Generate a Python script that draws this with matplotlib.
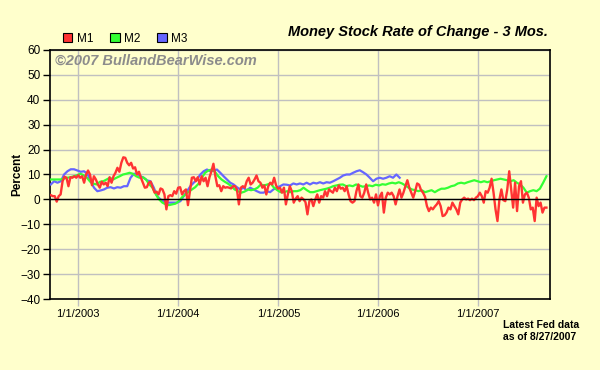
"""Money Stock Rate of Change - 3 Mos. (M1, M2, M3), weekly Fed data."""
import matplotlib

matplotlib.use("Agg")
import matplotlib.dates as mdates
import matplotlib.patches as mpatches
import matplotlib.pyplot as plt
import pandas as pd
from matplotlib.ticker import FuncFormatter

plt.rcParams["font.family"] = ["Liberation Sans", "DejaVu Sans"]

# 3-month annualised rate of change, percent
M1 = [
    1.7, 1.3, 1.3, -0.9, 1.3, 2.0, 7.3, 9.1, 8.7, 5.3, 8.9, 8.7, 9.3, 8.7, 9.7, 8.7, 9.3,
    6.7, 10.0, 11.6, 10.0, 5.7, 9.3, 8.0, 6.0, 4.7, 7.1, 6.0, 6.7, 5.3, 8.9, 6.7, 9.3, 10.7,
    12.7, 11.1, 14.7, 16.9, 16.7, 14.7, 13.7, 14.7, 12.4, 12.9, 10.0, 11.1, 8.7, 6.7, 4.7, 4.9,
    6.7, 7.1, 4.7, 2.7, 3.1, 2.0, 4.4, 4.0, 2.0, -4.0, 1.3, 1.7, 1.3, 3.3, 2.3, 4.7, 4.9, 2.0,
    3.3, 4.0, -2.3, 3.3, 8.7, 8.9, 7.3, 8.9, 6.0, 9.3, 7.3, 8.7, 5.3, 8.9, 11.3, 14.3, 9.3,
    5.3, 5.7, 3.3, 5.3, 4.7, 4.9, 4.7, 4.4, 5.3, 5.3, 4.0, -2.0, 4.7, 5.3, 4.7, 7.3, 8.7, 6.0,
    6.7, 8.0, 9.6, 7.3, 6.7, 4.7, 5.6, 2.0, 5.3, 6.7, 6.0, 8.7, 5.6, 4.3, 4.7, 2.7, 4.7, -2.0,
    2.0, 5.3, 3.3, -1.3, 0.3, 1.3, -0.7, 0.7, 0.0, -1.1, -6.0, -0.7, 0.0, -2.7, 0.0, 2.0, -1.3,
    1.3, 0.7, 3.3, 1.3, 4.0, 3.3, 2.7, 4.7, 3.3, 5.6, 4.3, 4.7, 3.3, 5.3, 2.0, -0.7,
    -1.3, -0.7, 3.3, 6.0, 1.3, 0.7, 2.7, 6.0, 2.7, 0.0, 0.7, -1.3, 2.0, -2.4, 1.3, 2.7, -5.3,
    0.7, 2.7, 2.0, 2.7, 1.3, -2.0, 1.3, 4.0, 0.7, 2.7, 5.3, 7.7, 4.7, 2.7, 0.7, 3.3, 6.4, 5.9,
    3.7, 2.7, 1.1, -2.7, -4.7, -3.3, -4.0, -2.9, -2.0, -0.7, -2.7, -6.7, -6.4, -5.3, -3.3, -4.0,
    -1.3, -2.7, -4.0, -6.0, -1.3, 0.0, 0.7, 0.0, 0.3, -0.3, 0.3, -0.3, 0.7, 1.3, 2.7, 1.3, -1.3,
    3.3, 2.7, 4.7, 8.3, 2.7, -4.0, -8.7, 0.0, 4.0, -0.3, -0.7, 4.0, 11.3, 4.0, -3.3, 6.7, -4.7,
    5.3, 7.3, -1.3, 2.0, 2.7, 0.7, -4.0, -3.3, -8.7, 0.7, -2.7, -1.3, -5.3, -3.3, -3.3,
]

M2 = [
    8.0, 8.0, 8.0, 8.0, 8.4, 8.7, 8.9, 9.3, 9.7, 10.3, 9.7, 8.7, 7.1, 6.3, 6.0, 7.1, 7.3, 8.0,
    8.7, 8.0, 8.7, 9.3, 10.0, 10.3, 10.7, 10.3, 9.3, 8.7, 8.9, 8.0,
    6.0, 4.7, 2.0, 0.0, -1.3, -2.0, -2.3, -2.0, -1.7, -0.7, 0.9, 2.0, 3.1, 4.0, 4.9, 6.3, 8.7,
    10.7, 11.6, 12.0, 11.1, 9.3, 8.0, 7.1, 6.3, 5.3, 4.0, 3.3, 2.7, 3.1,
    4.0, 3.7, 4.0, 4.7, 6.0, 5.6, 6.0, 6.4, 4.7, 3.7, 2.9, 2.9, 3.3, 2.9, 3.3, 3.3, 3.7, 4.7,
    3.7, 2.9, 2.9, 3.3, 3.7, 4.0, 4.3, 4.7, 5.3, 5.6, 5.9, 6.0,
    5.3, 5.6, 5.3, 6.0, 5.6, 5.1, 5.3, 5.6, 5.3, 5.9, 5.6, 6.1, 5.9, 6.4, 6.7, 6.4, 6.9, 6.4,
    5.6, 4.7, 4.0, 3.7, 3.3, 3.7, 2.9, 3.3, 3.7, 2.9, 3.7, 4.3,
    4.3, 4.7, 5.3, 5.6, 6.4, 6.7, 6.4, 6.9, 7.3, 7.7, 7.3, 6.9, 7.3, 6.9, 7.3, 7.7, 8.0, 8.3,
    8.0, 7.7, 7.3, 7.7, 6.7, 6.0, 4.7, 2.7, 3.3, 3.7, 3.3, 4.3, 6.7, 9.3,
]

M3 = [
    6.0, 7.3, 6.7, 7.3, 10.0, 11.3, 12.1, 12.1, 11.6, 11.1, 11.3, 10.3, 7.3, 4.7, 3.3, 3.6,
    4.0, 4.7, 4.9, 4.4, 4.9, 4.7, 5.3, 5.3, 8.7, 10.3, 10.3, 9.3, 8.7, 7.6,
    7.3, 4.7, 1.3, 0.0, -0.7, -1.3, -1.3, -1.3, -1.3, -0.7, 1.3, 3.3, 5.3, 6.7, 8.0, 10.0,
    11.3, 12.0, 11.3, 11.6, 12.0, 10.7, 9.3, 8.0, 6.7, 6.0, 4.9, 4.0, 4.7, 3.6,
    4.7, 4.0, 3.3, 2.7, 2.7, 3.3, 2.9, 4.0, 4.7, 5.3, 6.0, 5.9, 5.6, 6.4, 6.0, 6.4, 6.0, 6.7,
    6.0, 6.7, 6.4, 6.9, 6.4, 6.9, 6.7, 7.3, 8.0, 8.7, 9.6, 10.0,
    10.0, 10.7, 11.3, 11.7, 10.9, 10.0, 8.7, 7.3, 8.3, 8.7, 8.3, 8.7, 9.3, 8.7, 10.0, 8.7,
]

FIRST = "2002-09-23"
LAST = "2007-09-07"
M3_LAST = "2006-03-20"

BG = "#FFFFCC"
COLORS = {"M1": "#FF3333", "M2": "#33FF33", "M3": "#6666FF"}


def date_label(x, pos):
    d = mdates.num2date(x)
    return f"{d.month}/{d.day}/{d.year}"


def main():
    fig = plt.figure(figsize=(6, 3.7), dpi=100, facecolor=BG)
    ax = fig.add_axes([50 / 600, 71 / 370, 500 / 600, 249 / 370], facecolor=BG)

    d12 = pd.date_range(FIRST, LAST, periods=len(M1))
    d2 = pd.date_range(FIRST, LAST, periods=len(M2))
    d3 = pd.date_range(FIRST, M3_LAST, periods=len(M3))

    ax.plot(d3, M3, color=COLORS["M3"], lw=1.6, zorder=3)
    ax.plot(d2, M2, color=COLORS["M2"], lw=1.6, zorder=4)
    ax.plot(d12, M1, color=COLORS["M1"], lw=1.7, zorder=5)
    ax.axhline(0, color="black", lw=1.0, zorder=6)

    ax.set_xlim(pd.Timestamp("2002-09-20"), pd.Timestamp("2007-09-20"))
    ax.set_ylim(-40, 60)
    ax.set_yticks(range(-40, 61, 10))
    ax.xaxis.set_major_locator(mdates.YearLocator())
    ax.xaxis.set_major_formatter(FuncFormatter(date_label))

    ax.grid(color="#C0C0C0", lw=1.0)
    ax.set_axisbelow(True)
    for s in ax.spines.values():
        s.set_color("black")
        s.set_linewidth(1.2)
    ax.tick_params(axis="y", length=5, width=1, color="black", labelsize=8.5, pad=2)
    ax.tick_params(axis="x", length=5, width=1, color="#C0C0C0", labelsize=8, pad=2)

    ax.set_ylabel("Percent", fontsize=8.5, fontweight="bold")
    ax.yaxis.set_label_coords(-27 / 500, 0.5)

    fig.text(548 / 600, 1 - 32 / 370, "Money Stock Rate of Change - 3 Mos.",
             ha="right", va="center", fontsize=10.5, fontweight="bold", style="italic")
    fig.text(55 / 600, 1 - 61 / 370, "\u00a92007 BullandBearWise.com",
             ha="left", va="center", fontsize=10.5, fontweight="bold", style="italic",
             color="#8C8C8C")
    fig.text(503 / 600, 1 - 331 / 370, "Latest Fed data\nas of 8/27/2007",
             ha="left", va="center", fontsize=7.5, fontweight="bold", linespacing=1.3)

    handles = [mpatches.Patch(facecolor=c, edgecolor="black", lw=0.8, label=k)
               for k, c in COLORS.items()]
    fig.legend(handles=handles, loc="center left", bbox_to_anchor=(63 / 600, 1 - 39 / 370),
               ncol=3, frameon=False, fontsize=8.5, handlelength=0.8, handleheight=0.8,
               handletextpad=0.4, columnspacing=1.4, borderaxespad=0, borderpad=0)

    fig.savefig("out.png", dpi=100, facecolor=BG)


if __name__ == "__main__":
    main()
